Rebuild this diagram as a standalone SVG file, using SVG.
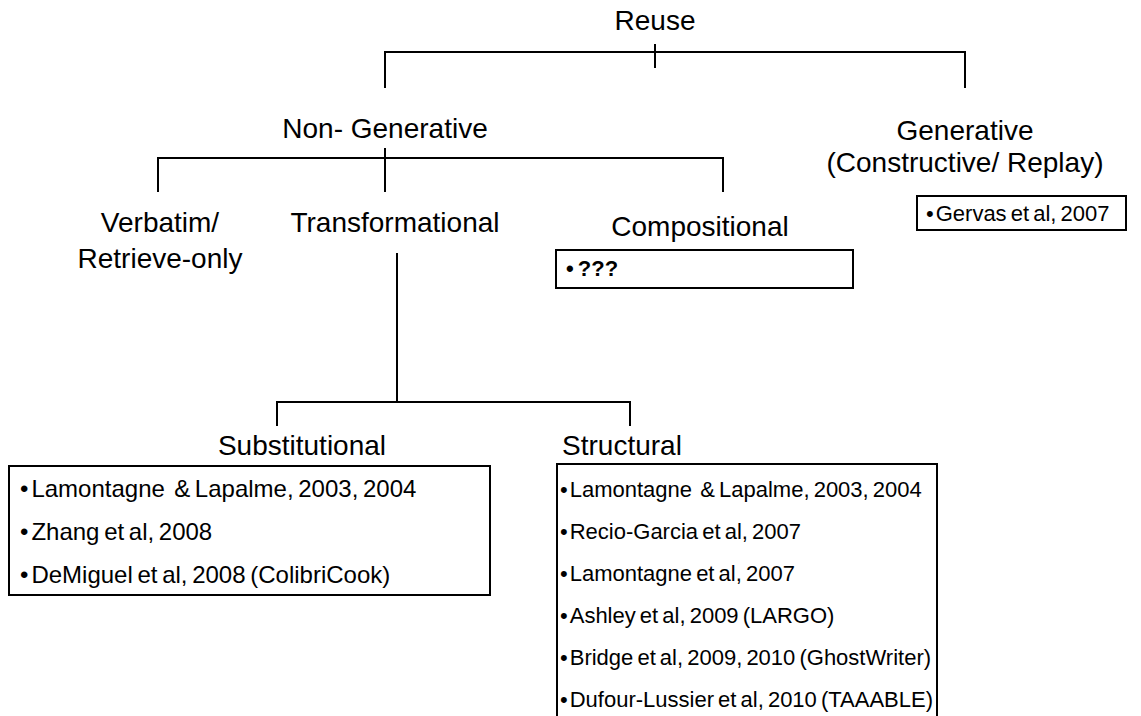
<svg xmlns="http://www.w3.org/2000/svg" width="1141" height="716" viewBox="0 0 1141 716">
<style>
.h{font-family:"Liberation Sans",Arial,sans-serif;font-size:28px;fill:#000;text-anchor:middle}
.l{font-family:"Liberation Sans",Arial,sans-serif;font-size:22px;word-spacing:-2px;fill:#000}
.s{font-size:24px}
.b{fill:#fff;stroke:#000;stroke-width:2}
.c{fill:none;stroke:#000;stroke-width:2}
</style>
<rect width="1141" height="716" fill="#fff"/>
<g id="connectors">
<path class="c" d="M385 88V52H965V88M655 44V68"/>
<path class="c" d="M158 192V158H723V192M385 148V192"/>
<path class="c" d="M397 253V402M277 426V402H630V426"/>
</g>
<g id="reuse"><text class="h" x="655" y="30">Reuse</text></g>
<g id="nongenerative"><text class="h" x="385" y="138">Non- Generative</text></g>
<g id="generative"><text class="h" x="965" y="140">Generative</text><text class="h" x="965" y="172">(Constructive/ Replay)</text>
<rect class="b" x="917" y="196" width="209" height="34"/>
<text class="l" x="926" y="221">•<tspan dx="2">Gervas et al, 2007</tspan></text></g>
<g id="verbatim"><text class="h" x="160" y="232">Verbatim/</text><text class="h" x="160" y="268">Retrieve-only</text></g>
<g id="transformational"><text class="h" x="395" y="232">Transformational</text></g>
<g id="compositional"><text class="h" x="700" y="236">Compositional</text>
<rect class="b" x="556" y="250" width="297" height="38"/>
<text class="l" x="566" y="276" font-weight="bold" font-size="21">• ???</text></g>
<g id="substitutional"><text class="h" x="302" y="455">Substitutional</text>
<rect class="b" x="9" y="466" width="481" height="129"/>
<text class="l s" x="20" y="497" xml:space="preserve">•<tspan dx="3">Lamontagne  &amp; Lapalme, 2003, 2004</tspan></text>
<text class="l s" x="20" y="540">•<tspan dx="3">Zhang et al, 2008</tspan></text>
<text class="l s" x="20" y="583">•<tspan dx="3">DeMiguel et al, 2008 (ColibriCook)</tspan></text></g>
<g id="structural"><text class="h" x="622" y="455">Structural</text>
<path class="c" d="M557 716V464H937V716"/>
<text class="l" x="560" y="497" xml:space="preserve">•<tspan dx="2">Lamontagne  &amp; Lapalme, 2003, 2004</tspan></text>
<text class="l" x="560" y="539">•<tspan dx="2">Recio-Garcia et al, 2007</tspan></text>
<text class="l" x="560" y="581">•<tspan dx="2">Lamontagne et al, 2007</tspan></text>
<text class="l" x="560" y="623">•<tspan dx="2">Ashley et al, 2009 (LARGO)</tspan></text>
<text class="l" x="560" y="665">•<tspan dx="2">Bridge et al, 2009, 2010 (GhostWriter)</tspan></text>
<text class="l" x="560" y="707">•<tspan dx="2">Dufour-Lussier et al, 2010 (TAAABLE)</tspan></text></g>
</svg>
